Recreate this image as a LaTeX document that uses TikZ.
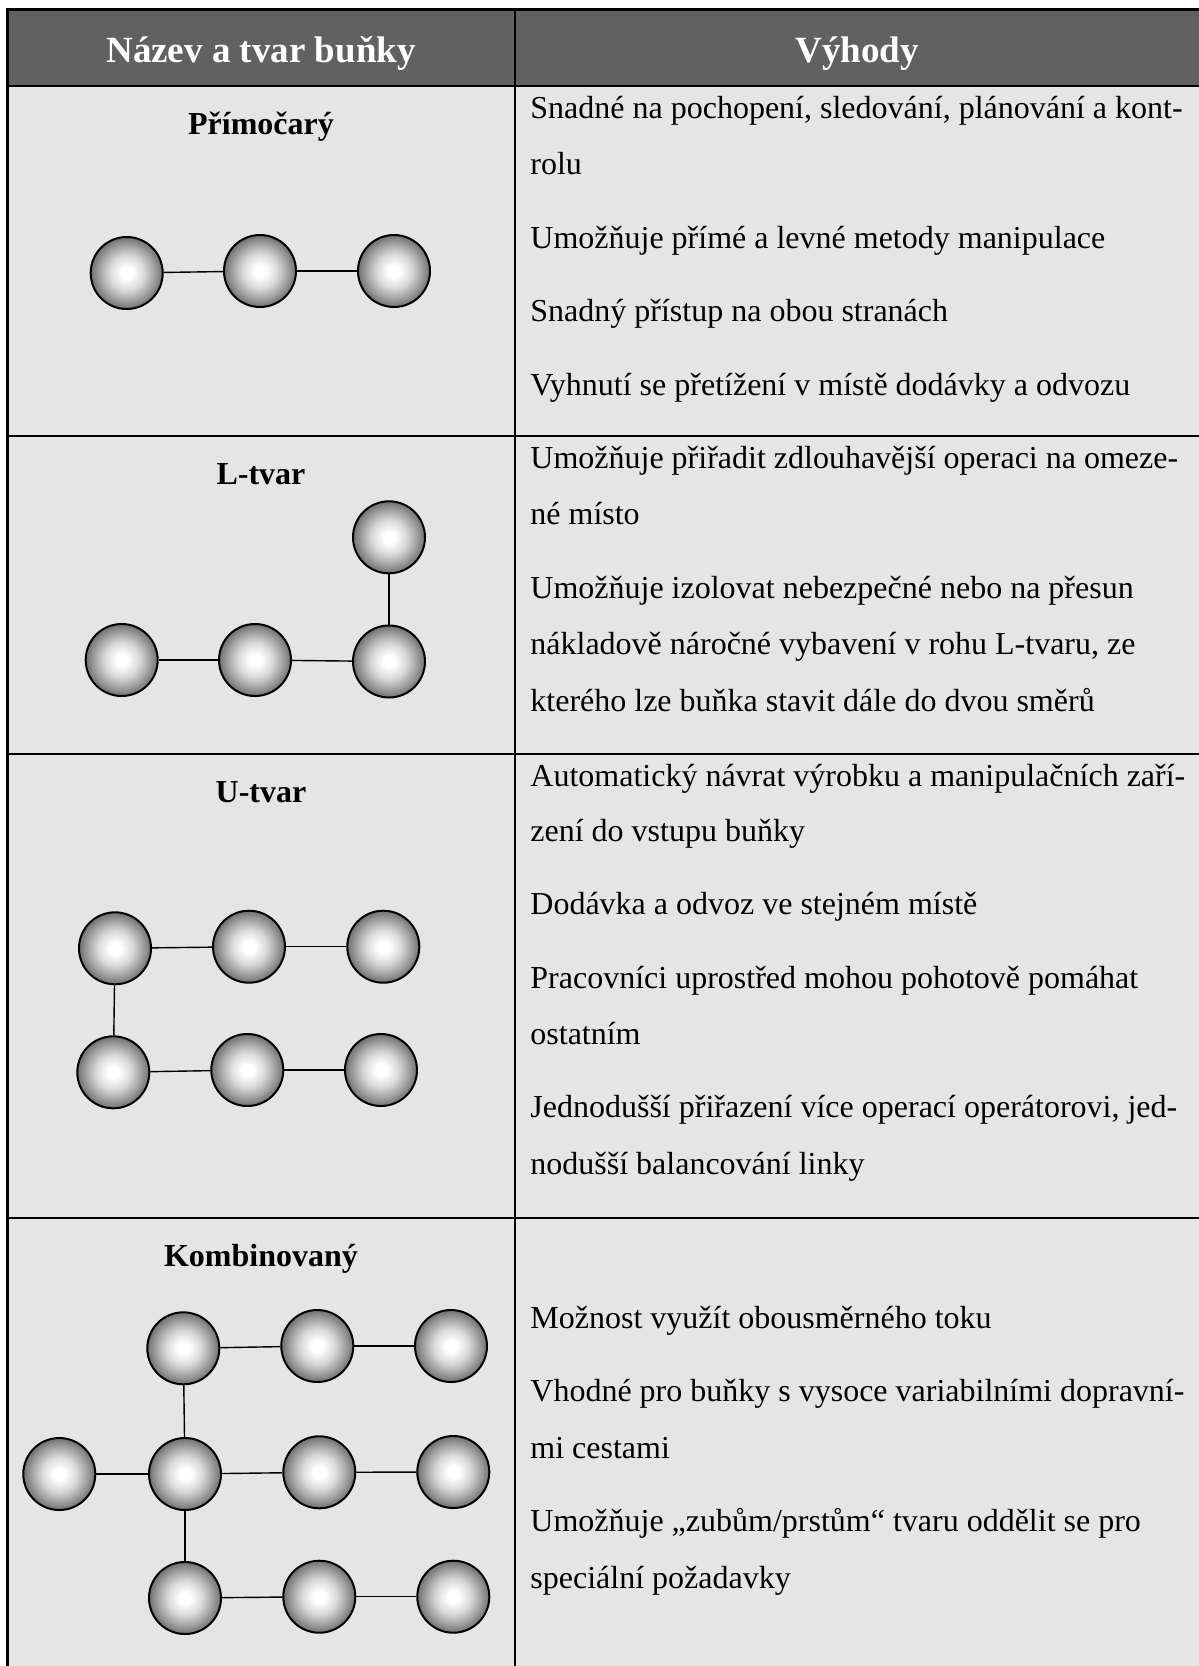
\documentclass[tikz,border=0pt]{standalone}
\usepackage{fontspec}
\setmainfont{Liberation Serif}
\usetikzlibrary{calc}

% soft grey sphere used for every workstation
\pgfdeclareradialshading{cellball}{\pgfpoint{0bp}{0bp}}{%
  color(0bp)=(white); color(4bp)=(white); color(12bp)=(black!15);
  color(19bp)=(black!36); color(25bp)=(black!56); color(50bp)=(black!56)}

\definecolor{headgrey}{HTML}{616161}
\definecolor{bodygrey}{HTML}{E5E5E5}

\tikzset{
  station/.style={circle, draw=black, line width=1pt, minimum size=36pt,
    inner sep=0pt, shading=cellball},
  link/.style={draw=black, line width=0.7pt},
  rule/.style={draw=black, line width=1.25pt},
  headtext/.style={anchor=base, inner sep=0pt, text=white,
    font=\fontsize{18.5pt}{22pt}\selectfont\bfseries},
  titletext/.style={anchor=base, inner sep=0pt,
    font=\fontsize{16pt}{19pt}\selectfont\bfseries},
  bodytext/.style={anchor=base west, inner sep=0pt,
    font=\fontsize{16pt}{19pt}\selectfont},
}

\begin{document}
\begin{tikzpicture}[x=0.5pt, y=-0.5pt]
  \useasboundingbox (0,0) rectangle (1199,1666);
  \clip (0,0) rectangle (1199,1666);
  \fill[white] (0,0) rectangle (1199,1666);

  % table background
  \fill[headgrey] (7.5,9.5) rectangle (1199,86);
  \fill[bodygrey] (7.5,86) rectangle (1199,1666);

  % table rules
  \draw[rule] (7.5,1666) -- (7.5,9.5) -- (1200,9.5);
  \draw[rule] (7.5,86) -- (1200,86);
  \draw[rule] (515,9.5) -- (515,1666);
  \draw[rule] (7.5,436) -- (1200,436);
  \draw[rule] (7.5,754) -- (1200,754);
  \draw[rule] (7.5,1218) -- (1200,1218);

  % header
  \node[headtext] (hname) at (261,62) {Název a tvar buňky};
  \node[headtext] (hadv) at (857,62) {Výhody};

  % ---- straight cell
  \node[titletext] (t1) at (261,134) {Přímočarý};
  \node[station] (a1) at (126.7,273) {};
  \node[station] (a2) at (260,271) {};
  \node[station] (a3) at (394,271) {};
  \draw[link] (a1) -- (a2);
  \draw[link] (a2) -- (a3);

  \node[bodytext] (p1a) at (530,118) {Snadné na pochopení, sledování, plánování a kont-};
  \node[bodytext] (p1b) at (530,174.5) {rolu};
  \node[bodytext] (p1c) at (530,248) {Umožňuje přímé a levné metody manipulace};
  \node[bodytext] (p1d) at (530,321.5) {Snadný přístup na obou stranách};
  \node[bodytext] (p1e) at (530,395) {Vyhnutí se přetížení v místě dodávky a odvozu};

  % ---- L-shaped cell
  \node[titletext] (t2) at (261,484) {L-tvar};
  \node[station] (b1) at (121.7,660) {};
  \node[station] (b2) at (255,660) {};
  \node[station] (b3) at (389,661.5) {};
  \node[station] (b4) at (389,537.3) {};
  \draw[link] (b1) -- (b2);
  \draw[link] (b2) -- (b3);
  \draw[link] (b3) -- (b4);

  \node[bodytext] (p2a) at (530,468) {Umožňuje přiřadit zdlouhavější operaci na omeze-};
  \node[bodytext] (p2b) at (530,524.5) {né místo};
  \node[bodytext] (p2c) at (530,598) {Umožňuje izolovat nebezpečné nebo na přesun};
  \node[bodytext] (p2d) at (530,654.5) {nákladově náročné vybavení v rohu L-tvaru, ze};
  \node[bodytext] (p2e) at (530,711) {kterého lze buňka stavit dále do dvou směrů};

  % ---- U-shaped cell
  \node[titletext] (t3) at (261,802) {U-tvar};
  \node[station] (c1) at (115,948.3) {};
  \node[station] (c2) at (249,946.7) {};
  \node[station] (c3) at (383.3,946.7) {};
  \node[station] (c4) at (113.3,1072.3) {};
  \node[station] (c5) at (247.3,1070) {};
  \node[station] (c6) at (381,1070) {};
  \draw[link] (c1) -- (c2);
  \draw[link] (c2) -- (c3);
  \draw[link] (c1) -- (c4);
  \draw[link] (c4) -- (c5);
  \draw[link] (c5) -- (c6);

  \node[bodytext] (p3a) at (530,786) {Automatický návrat výrobku a manipulačních zaří-};
  \node[bodytext] (p3b) at (530,841) {zení do vstupu buňky};
  \node[bodytext] (p3c) at (530,914.5) {Dodávka a odvoz ve stejném místě};
  \node[bodytext] (p3d) at (530,988) {Pracovníci uprostřed mohou pohotově pomáhat};
  \node[bodytext] (p3e) at (530,1044) {ostatním};
  \node[bodytext] (p3f) at (530,1117.5) {Jednodušší přiřazení více operací operátorovi, jed-};
  \node[bodytext] (p3g) at (530,1174) {nodušší balancování linky};

  % ---- combined cell
  \node[titletext] (t4) at (261,1266) {Kombinovaný};
  \node[station] (d1) at (183.3,1348.3) {};
  \node[station] (d2) at (317.3,1346) {};
  \node[station] (d3) at (451,1346) {};
  \node[station] (d4) at (59.3,1474) {};
  \node[station] (d5) at (185,1474) {};
  \node[station] (d6) at (319.3,1472.3) {};
  \node[station] (d7) at (453.3,1472) {};
  \node[station] (d8) at (185,1598) {};
  \node[station] (d9) at (319.3,1596.7) {};
  \node[station] (d10) at (453.3,1596.7) {};
  \draw[link] (d1) -- (d2);
  \draw[link] (d2) -- (d3);
  \draw[link] (d1) -- (d5);
  \draw[link] (d4) -- (d5);
  \draw[link] (d5) -- (d6);
  \draw[link] (d6) -- (d7);
  \draw[link] (d5) -- (d8);
  \draw[link] (d8) -- (d9);
  \draw[link] (d9) -- (d10);

  \node[bodytext] (p4a) at (530,1328) {Možnost využít obousměrného toku};
  \node[bodytext] (p4b) at (530,1401.5) {Vhodné pro buňky s vysoce variabilními dopravní-};
  \node[bodytext] (p4c) at (530,1458) {mi cestami};
  \node[bodytext] (p4d) at (530,1531.5) {Umožňuje „zubům/prstům“ tvaru oddělit se pro};
  \node[bodytext] (p4e) at (530,1588) {speciální požadavky};
\end{tikzpicture}
\end{document}
